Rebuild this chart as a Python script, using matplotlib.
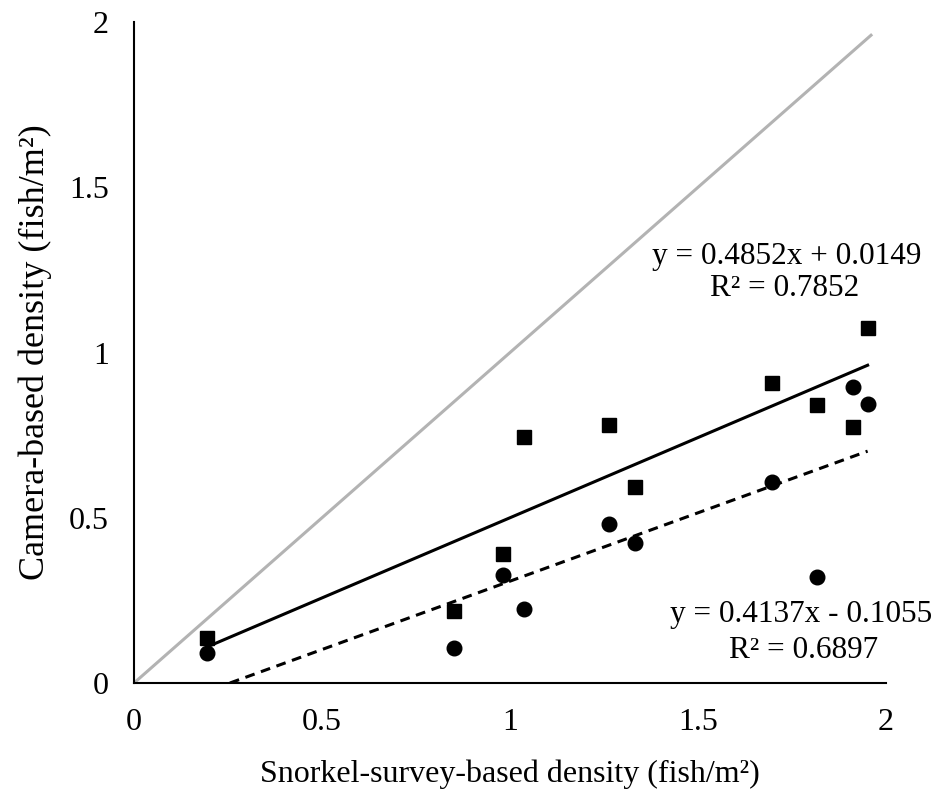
import matplotlib.pyplot as plt
import numpy as np

plt.rcParams['font.family'] = ['Liberation Serif', 'DejaVu Serif']

# snorkel-survey density vs camera density
snorkel = [0.194, 0.851, 0.982, 1.038, 1.264, 1.333, 1.698, 1.817, 1.911, 1.951]
camera_sq = [0.135, 0.219, 0.390, 0.745, 0.781, 0.594, 0.909, 0.841, 0.776, 1.073]
camera_ci = [0.090, 0.105, 0.327, 0.224, 0.480, 0.425, 0.607, 0.322, 0.895, 0.844]

# trendline coefficients
slope_sq, icpt_sq = 0.4852, 0.0149
slope_ci, icpt_ci = 0.4137, -0.1055
r2_sq = 0.7852
r2_ci = 0.6897

fig = plt.figure(figsize=(9.41, 7.92), dpi=100)
ax = fig.add_axes([0.1424, 0.1376, 0.7992, 0.8346])

# 1:1 reference line
ax.plot([0, 1.96], [0, 1.96], color='#b3b3b3', lw=2.2, zorder=1)

x = np.array(snorkel)
xl = np.array([x.min(), x.max()])
ax.plot(xl, slope_sq * xl + icpt_sq, color='black', lw=2.2, zorder=2)

# dashed fit, clipped at y = 0
x0 = max(x.min(), -icpt_ci / slope_ci)
xd = np.array([x0, x.max()])
ax.plot(xd, slope_ci * xd + icpt_ci, color='black', lw=2.2, ls=(0, (3.2, 2.2)), zorder=2)

ax.plot(x, camera_sq, 's', color='black', ms=9.5, zorder=3)
ax.plot(x, camera_ci, 'o', color='black', ms=10.5, zorder=3)

ax.text(1.735, 1.292, 'y = %.4fx + %.4f' % (slope_sq, icpt_sq), fontsize=22.5, ha='center', va='center')
ax.text(1.729, 1.195, 'R² = %.4f' % r2_sq, fontsize=22.5, ha='center', va='center')
ax.text(1.774, 0.206, 'y = %.4fx - %.4f' % (slope_ci, -icpt_ci), fontsize=22.5, ha='center', va='center')
ax.text(1.78, 0.097, 'R² = %.4f' % r2_ci, fontsize=22.5, ha='center', va='center')

ax.set_xlim(0, 2)
ax.set_ylim(0, 2)
ax.set_xticks([0, 0.5, 1, 1.5, 2])
ax.set_xticklabels(['0', '0.5', '1', '1.5', '2'])
ax.set_yticks([0, 0.5, 1, 1.5, 2])
ax.set_yticklabels(['0', '0.5', '1', '1.5', '2'])
ax.tick_params(length=0, labelsize=23, pad=18)

for s in ['top', 'right']:
    ax.spines[s].set_visible(False)
for s in ['left', 'bottom']:
    ax.spines[s].set_linewidth(1.5)

ax.set_xlabel('Snorkel-survey-based density (fish/m²)', fontsize=23, labelpad=16)
ax.set_ylabel('Camera-based density (fish/m²)', fontsize=26, labelpad=12)

plt.savefig('out.png', dpi=100)
